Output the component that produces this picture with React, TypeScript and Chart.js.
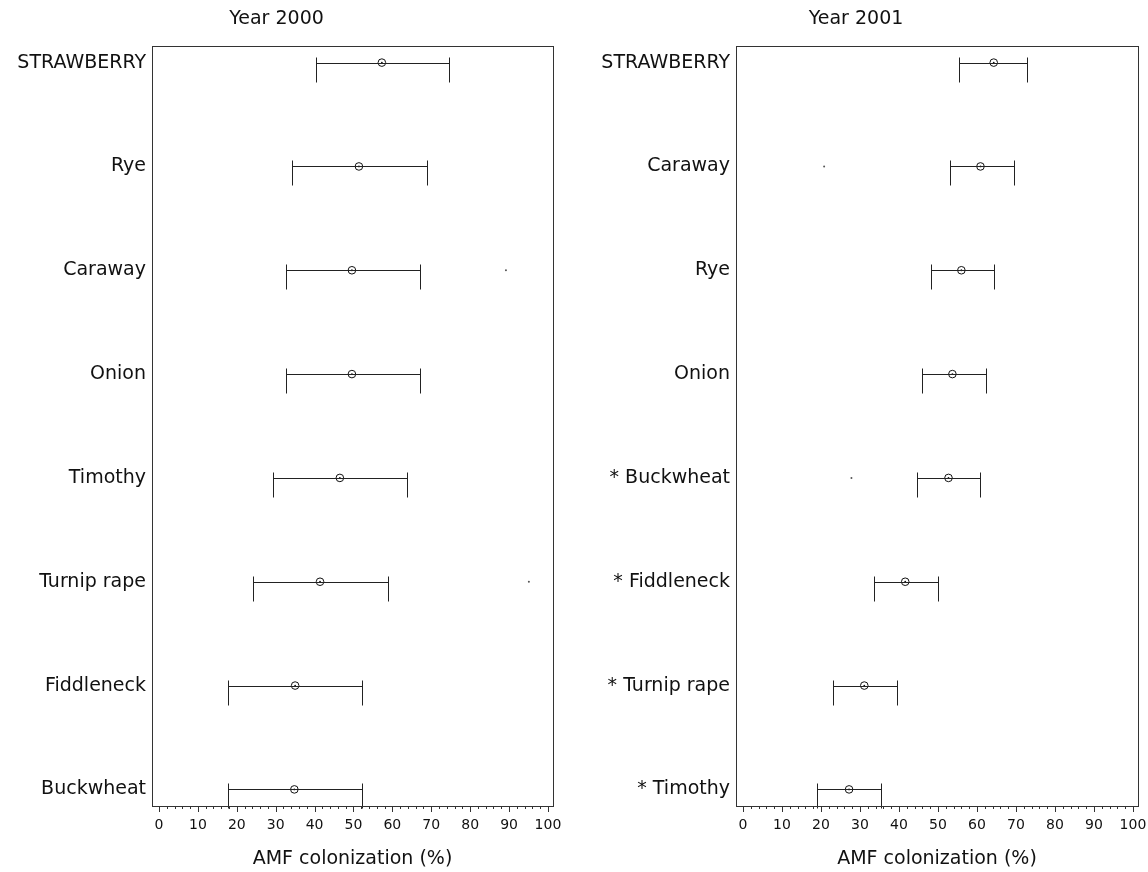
import React, { useEffect, useRef } from "react";
import { Chart, registerables } from "chart.js";

Chart.register(...registerables);

const labels2000 = ["STRAWBERRY", "Rye", "Caraway", "Onion", "Timothy", "Turnip rape", "Fiddleneck", "Buckwheat"];
const mean2000 = [57.3, 51.4, 49.6, 49.6, 46.5, 41.4, 35.0, 34.8];
const lo2000 = [40.4, 34.2, 32.6, 32.6, 29.3, 24.2, 17.7, 17.7];
const hi2000 = [74.6, 68.9, 67.1, 67.1, 63.8, 58.9, 52.2, 52.2];
const outX2000 = [89.2, 95.1];
const outY2000 = [2, 5];

const labels2001 = ["STRAWBERRY", "Caraway", "Rye", "Onion", "* Buckwheat", "* Fiddleneck", "* Turnip rape", "* Timothy"];
const mean2001 = [64.3, 60.9, 56.0, 53.7, 52.7, 41.6, 31.1, 27.2];
const lo2001 = [55.5, 53.0, 48.1, 45.8, 44.5, 33.7, 23.1, 19.0];
const hi2001 = [72.8, 69.4, 64.3, 62.2, 60.9, 49.9, 39.6, 35.5];
const outX2001 = [20.8, 27.8];
const outY2001 = [1, 4];

const xTicks = Array.from({ length: 51 }, (_, i) => i * 2);
const titles = ["Year 2000", "Year 2001"];
const xTitle = "AMF colonization (%)";

const FONT = "'DejaVu Sans', sans-serif";

type PanelProps = {
  title: string;
  labels: string[];
  mean: number[];
  lo: number[];
  hi: number[];
  outX: number[];
  outY: number[];
  yWidth: number;
  width: number;
  padRight: number;
};

function Panel(p: PanelProps) {
  const ref = useRef<HTMLCanvasElement | null>(null);
  useEffect(() => {
    if (!ref.current) return;
    const deco = {
      id: "deco",
      afterDatasetsDraw(chart: any) {
        const ctx = chart.ctx;
        const xs = chart.scales.x;
        const ys = chart.scales.y;
        const a = chart.chartArea;
        ctx.save();
        ctx.strokeStyle = "#222";
        ctx.lineWidth = 1;
        // error bars
        for (let i = 0; i < p.mean.length; i++) {
          const y = Math.round(ys.getPixelForValue(i)) + 0.5;
          const x1 = Math.round(xs.getPixelForValue(p.lo[i])) + 0.5;
          const x2 = Math.round(xs.getPixelForValue(p.hi[i])) + 0.5;
          ctx.beginPath();
          ctx.moveTo(x1, y);
          ctx.lineTo(x2, y);
          ctx.moveTo(x1, y - 6);
          ctx.lineTo(x1, y + 19);
          ctx.moveTo(x2, y - 6);
          ctx.lineTo(x2, y + 19);
          ctx.stroke();
        }
        // frame
        ctx.strokeStyle = "#333";
        ctx.strokeRect(Math.round(a.left) + 0.5, Math.round(a.top) + 0.5, Math.round(a.right - a.left), Math.round(a.bottom - a.top));
        // tick marks
        ctx.beginPath();
        for (const t of xs.ticks) {
          const x = Math.round(xs.getPixelForValue(t.value)) + 0.5;
          const len = t.value % 10 === 0 ? 6 : 3;
          ctx.moveTo(x, Math.round(a.bottom));
          ctx.lineTo(x, Math.round(a.bottom) + len);
        }
        ctx.stroke();
        // title
        ctx.fillStyle = "#111";
        ctx.font = "19px " + FONT;
        ctx.textAlign = "center";
        ctx.textBaseline = "middle";
        ctx.fillText(p.title, a.right / 2, 19);
        ctx.restore();
      },
    };
    const chart = new Chart(ref.current, {
      type: "scatter",
      data: {
        datasets: [
          {
            data: p.mean.map((m, i) => ({ x: m, y: i })),
            pointStyle: "circle",
            pointRadius: 3.8,
            borderColor: "#111",
            backgroundColor: "rgba(0,0,0,0)",
            borderWidth: 1,
          },
          {
            data: p.mean.map((m, i) => ({ x: m, y: i })),
            pointRadius: 0.9,
            borderWidth: 0,
            backgroundColor: "#111",
          },
          {
            data: p.outX.map((v, i) => ({ x: v, y: p.outY[i] })),
            pointRadius: 1,
            borderWidth: 0,
            backgroundColor: "#555",
          },
        ],
      },
      options: {
        responsive: false,
        animation: false,
        events: [],
        layout: { padding: { left: 0, right: p.padRight, top: 46, bottom: 0 } },
        plugins: { legend: { display: false }, tooltip: { enabled: false }, title: { display: false } },
        scales: {
          x: {
            type: "linear",
            min: -1.8,
            max: 101.3,
            afterBuildTicks: (s: any) => {
              s.ticks = xTicks.map((v) => ({ value: v }));
            },
            afterFit: (s: any) => {
              s.height = 66;
              s.paddingLeft = 0;
              s.paddingRight = 0;
            },
            grid: { display: false, drawTicks: false },
            border: { display: false },
            ticks: {
              autoSkip: false,
              maxRotation: 0,
              padding: 11,
              color: "#111",
              font: { family: FONT, size: 14 },
              callback: (v: any) => (Number(v) % 10 === 0 ? String(v) : ""),
            },
            title: {
              display: true,
              text: xTitle,
              color: "#111",
              font: { family: FONT, size: 19 },
              padding: { top: 0, bottom: 2 },
            },
          },
          y: {
            type: "linear",
            min: -0.16,
            max: 7.16,
            reverse: true,
            afterBuildTicks: (s: any) => {
              s.ticks = p.labels.map((_, i) => ({ value: i }));
            },
            afterFit: (s: any) => {
              s.width = p.yWidth;
              s.paddingTop = 0;
              s.paddingBottom = 0;
            },
            grid: { display: false, drawTicks: false },
            border: { display: false },
            ticks: {
              autoSkip: false,
              padding: 6,
              color: "#111",
              font: { family: FONT, size: 19 },
              callback: (v: any) => p.labels[Math.round(Number(v))] ?? "",
            },
          },
        },
      },
      plugins: [deco],
    } as any);
    return () => chart.destroy();
  }, []);
  return <canvas ref={ref} width={p.width} height={872} style={{ display: "block", width: p.width, height: 872 }} />;
}

export default function App() {
  return (
    <div style={{ position: "fixed", left: 0, top: 0, width: 1148, height: 872, background: "#fff", display: "flex" }}>
      <Panel title={titles[0]} labels={labels2000} mean={mean2000} lo={lo2000} hi={hi2000} outX={outX2000} outY={outY2000} yWidth={152} width={574} padRight={21} />
      <Panel title={titles[1]} labels={labels2001} mean={mean2001} lo={lo2001} hi={hi2001} outX={outX2001} outY={outY2001} yWidth={162} width={574} padRight={10} />
    </div>
  );
}
